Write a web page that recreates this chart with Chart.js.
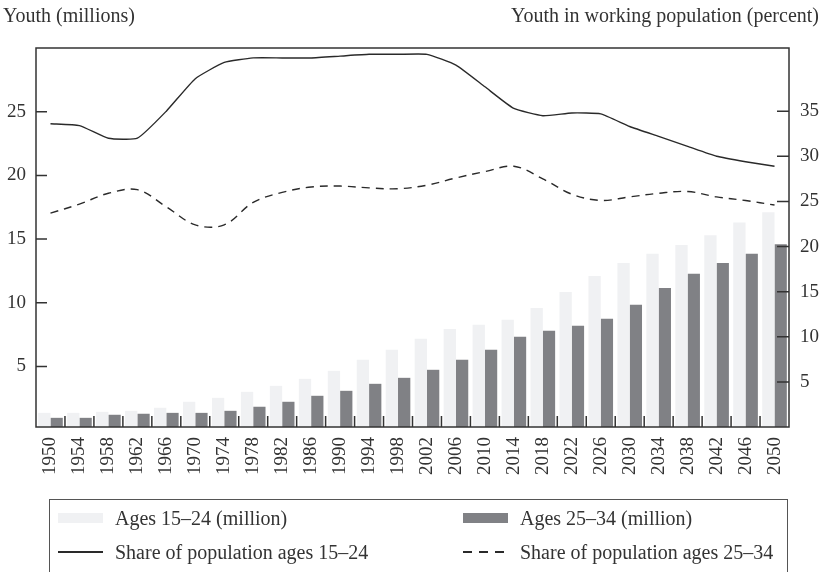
<!DOCTYPE html>
<html>
<head>
<meta charset="utf-8">
<script src="https://cdn.jsdelivr.net/npm/chart.js@4.4.0/dist/chart.umd.min.js"></script>
<style>
  body { margin: 0; width: 823px; height: 572px; overflow: hidden; background: #fff; position: relative;
         font-family: "Liberation Serif", "DejaVu Serif", serif; color: #333; }
  #chart { position: absolute; left: 0; top: 0; }
  .ttl { position: absolute; top: 3px; font-size: 20px; line-height: 24px; white-space: nowrap; }
  #legend { position: absolute; left: 49px; top: 499px; width: 739px; height: 110px;
            border: 1.5px solid #555; box-sizing: border-box; padding: 1px 0 0 8px;
            display: grid; grid-template-columns: 405px 320px; grid-auto-rows: 34px; }
  .item { display: flex; align-items: center; font-size: 20px; white-space: nowrap; }
  .sw { width: 45px; height: 10px; margin-right: 12px; flex: none; }
</style>
</head>
<body>
<canvas id="chart" width="823" height="572"></canvas>
<div class="ttl" style="left:3px">Youth (millions)</div>
<div class="ttl" style="right:4px">Youth in working population (percent)</div>
<div id="legend"></div>
<script>
const years = ['1950', '1954', '1958', '1962', '1966', '1970', '1974', '1978', '1982', '1986',
  '1990', '1994', '1998', '2002', '2006', '2010', '2014', '2018', '2022', '2026',
  '2030', '2034', '2038', '2042', '2046', '2050'];

// millions
const ages1524 = [1.36, 1.36, 1.44, 1.52, 1.76, 2.23, 2.54, 3.01, 3.48, 4.03, 4.66, 5.52, 6.31,
  7.17, 7.95, 8.27, 8.66, 9.60, 10.85, 12.11, 13.13, 13.84, 14.54, 15.3, 16.3, 17.1];
const ages2534 = [0.97, 0.97, 1.21, 1.29, 1.36, 1.36, 1.52, 1.84, 2.23, 2.70, 3.09, 3.64, 4.11,
  4.74, 5.52, 6.31, 7.33, 7.80, 8.19, 8.74, 9.84, 11.17, 12.27, 13.13, 13.84, 14.6];

// percent
const share1524 = [33.6, 33.4, 32.0, 32.0, 35.0, 38.6, 40.4, 40.9, 40.9, 40.9, 41.1, 41.3, 41.3,
  41.3, 40.1, 37.7, 35.3, 34.5, 34.8, 34.7, 33.3, 32.2, 31.1, 30.0, 29.4, 28.9];
const share2534 = [23.7, 24.7, 25.9, 26.3, 24.4, 22.4, 22.4, 24.9, 26.0, 26.6, 26.7, 26.5, 26.4,
  26.8, 27.6, 28.3, 28.9, 27.5, 25.8, 25.1, 25.5, 25.9, 26.1, 25.5, 25.1, 24.6];

const leftTicks = [5, 10, 15, 20, 25];
const rightTicks = [5, 10, 15, 20, 25, 30, 35];

const lightGrey = '#f0f1f3';
const darkGrey = '#808185';
const ink = '#2a2a2a';

// frame + inward tick marks
const frameTicks = {
    id: 'frameTicks',
    afterDatasetsDraw(chart) {
        const { ctx, chartArea: a, scales } = chart;
        ctx.save();
        ctx.strokeStyle = '#333';
        ctx.lineWidth = 1.5;
        ctx.strokeRect(a.left, a.top, a.right - a.left, a.bottom - a.top);
        ctx.beginPath();
        for (let i = 1; i < years.length; i++) {
            const px = (scales.x.getPixelForValue(i - 1) + scales.x.getPixelForValue(i)) / 2;
            ctx.moveTo(px, a.bottom);
            ctx.lineTo(px, a.bottom - 11);
        }
        scales.y.ticks.forEach(t => {
            const py = scales.y.getPixelForValue(t.value);
            ctx.moveTo(a.left, py);
            ctx.lineTo(a.left + 11, py);
        });
        scales.y1.ticks.forEach(t => {
            const py = scales.y1.getPixelForValue(t.value);
            ctx.moveTo(a.right, py);
            ctx.lineTo(a.right - 12, py);
        });
        ctx.stroke();
        ctx.restore();
    }
};

const tickFont = { family: 'Liberation Serif', size: 19 };
const noGrid = { display: false, drawTicks: false };

const datasets = [
    { type: 'bar', label: 'Ages 15\u201324 (million)', data: ages1524, backgroundColor: lightGrey,
      yAxisID: 'y', order: 2, categoryPercentage: 0.85, barPercentage: 1.0 },
    { type: 'bar', label: 'Ages 25\u201334 (million)', data: ages2534, backgroundColor: darkGrey,
      yAxisID: 'y', order: 2, categoryPercentage: 0.85, barPercentage: 1.0 },
    { type: 'line', label: 'Share of population ages 15\u201324', data: share1524, borderColor: ink,
      borderWidth: 1.4, pointRadius: 0, tension: 0.15, yAxisID: 'y1', order: 1 },
    { type: 'line', label: 'Share of population ages 25\u201334', data: share2534, borderColor: ink,
      borderWidth: 1.4, borderDash: [8, 6], pointRadius: 0, tension: 0.35, yAxisID: 'y1', order: 1 }
];

new Chart(document.getElementById('chart').getContext('2d'), {
    data: { labels: years, datasets: datasets },
    options: {
        responsive: false,
        animation: false,
        layout: { padding: { top: 48, left: 0, right: 0, bottom: 0 } },
        plugins: { legend: { display: false }, tooltip: { enabled: false } },
        scales: {
            x: {
                grid: noGrid,
                border: { display: false },
                ticks: { font: tickFont, color: '#333', minRotation: 90, maxRotation: 90, padding: 10, autoSkip: false },
                afterFit: s => { s.height = 145; }
            },
            y: {
                position: 'left',
                min: 0.25,
                max: 30,
                grid: noGrid,
                border: { display: false },
                ticks: { font: tickFont, color: '#333', padding: 10 },
                afterBuildTicks: s => { s.ticks = leftTicks.map(v => ({ value: v })); },
                afterFit: s => { s.width = 36; }
            },
            y1: {
                position: 'right',
                min: 0,
                max: 42,
                grid: noGrid,
                border: { display: false },
                ticks: { font: tickFont, color: '#333', padding: 11 },
                afterBuildTicks: s => { s.ticks = rightTicks.map(v => ({ value: v })); },
                afterFit: s => { s.width = 34; }
            }
        }
    },
    plugins: [frameTicks]
});

// legend in a framed box, two columns
const legend = document.getElementById('legend');
datasets.forEach(ds => {
    const item = document.createElement('div');
    item.className = 'item';
    const sw = document.createElement('span');
    sw.className = 'sw';
    if (ds.type === 'bar') {
        sw.style.background = ds.backgroundColor;
    } else if (ds.borderDash) {
        sw.style.height = '1.5px';
        sw.style.background = 'repeating-linear-gradient(to right, ' + ink + ' 0 9px, transparent 9px 16px)';
    } else {
        sw.style.height = '1.5px';
        sw.style.background = ink;
    }
    item.appendChild(sw);
    item.appendChild(document.createTextNode(ds.label));
    legend.appendChild(item);
});
</script>
</body>
</html>
